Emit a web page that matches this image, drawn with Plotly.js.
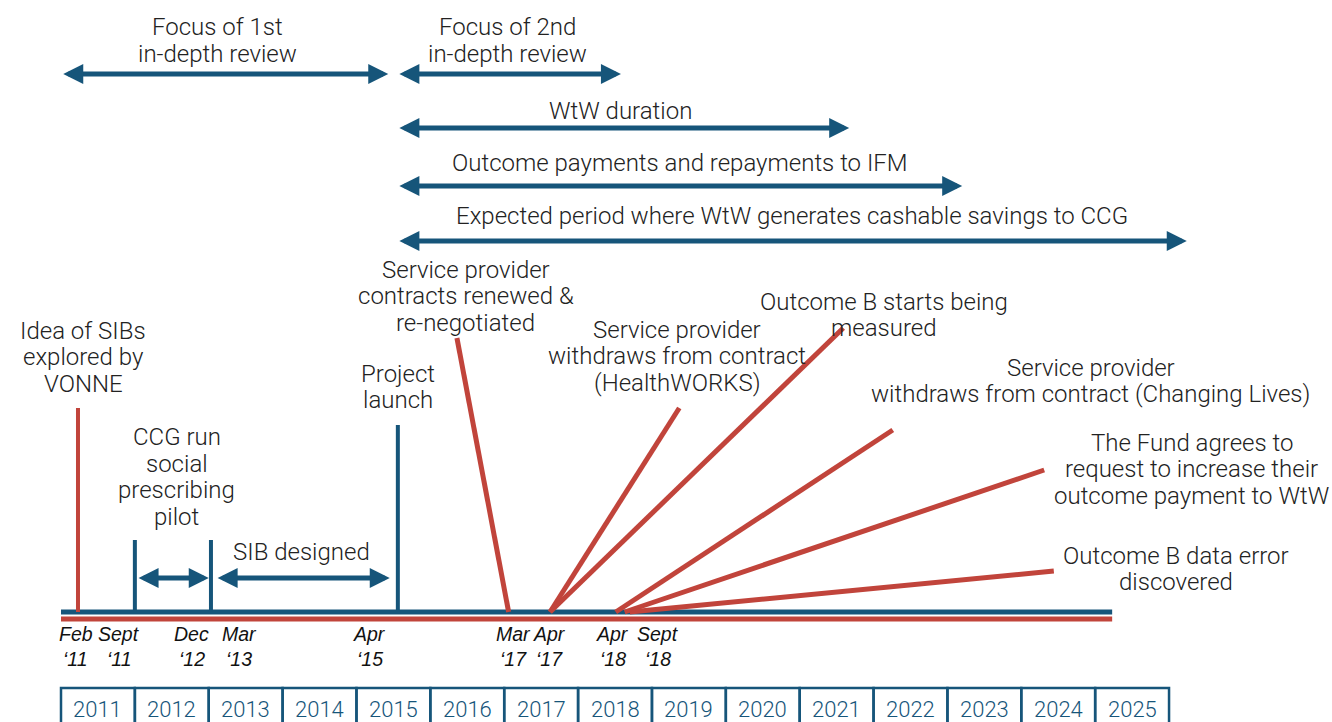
<!DOCTYPE html>
<html>
<head>
<meta charset="utf-8">
<script src="https://cdn.plot.ly/plotly-3.0.1.min.js"></script>
<style>html,body{margin:0;padding:0;background:#fff;}#chart{width:1332px;height:722px;}</style>
</head>
<body>
<div id="chart"></div>
<script>
// ---------- DATA ----------
const years = [2011, 2012, 2013, 2014, 2015, 2016, 2017, 2018, 2019, 2020, 2021, 2022, 2023, 2024, 2025];
const yearLabels = ['2011','2012','2013','2014','2015','2016','2017','2018','2019','2020','2021','2022','2023','2024','2025'];

// Periods shown as double arrows (schematic positions in years)
const periodLabels = ['Focus of 1st<br>in-depth review', 'Focus of 2nd<br>in-depth review', 'WtW duration',
  'Outcome payments and repayments to IFM', 'Expected period where WtW generates cashable savings to CCG'];
const periodStart = [2011.01, 2015.56, 2015.56, 2015.56, 2015.56];
const periodEnd = [2015.43, 2018.58, 2021.67, 2023.20, 2026.24];

// Lower periods
const phaseLabels = ['CCG run<br>social<br>prescribing<br>pilot', 'SIB designed'];
const phaseStart = [2012.03, 2013.10];
const phaseEnd = [2013.00, 2015.45];

// Milestones drawn as vertical lines
const milestoneLabels = ['Idea of SIBs<br>explored by<br>VONNE', '', '', 'Project<br>launch'];
const milestoneDate = [2011.23, 2012.00, 2013.03, 2015.56];

// Events drawn as slanted red lines
const eventLabels = ['Service provider<br>contracts renewed &<br>re-negotiated',
  'Service provider<br>withdraws from contract<br>(HealthWORKS)',
  'Outcome B starts being<br>measured',
  'Service provider<br>withdraws from contract (Changing Lives)',
  'The Fund agrees to<br>request to increase their<br>outcome payment to WtW',
  'Outcome B data error<br>discovered'];
const eventDate = [2017.06, 2017.62, 2017.62, 2018.51, 2018.63, 2018.70];

// Date tick labels under the timeline
const dateTickLabels = ['Feb<br>‘11','Sept<br>‘11','Dec<br>‘12','Mar<br>‘13','Apr<br>‘15','Mar<br>‘17','Apr<br>‘17','Apr<br>‘18','Sept<br>‘18'];
const dateTickPos = [2011.20, 2011.79, 2012.77, 2013.41, 2015.18, 2017.12, 2017.61, 2018.47, 2019.08];

const timelineStart = 2011.0, timelineEnd = 2025.23;

// ---------- LAYOUT / STYLE ----------
const BLUE = '#16557a', RED = '#c1443b', TXT = '#222222';
const FONT = 'Roboto, "Liberation Sans", Arial, sans-serif';
const baseY = 612, redBaseY = 619;
const periodLabelPos = [[2013.12, 40], [2017.05, 40], [2018.57, 111], [2019.38, 163], [2020.90, 216]];
const periodArrowY = [74, 74, 128, 186, 241];
const phaseLabelPos = [[2012.57, 477], [2014.26, 552]];
const phaseArrowY = [578, 578];
const milestoneTopY = [408, 540, 540, 425];
const milestoneColor = [RED, BLUE, BLUE, BLUE];
const milestoneLabelPos = [[2011.30, 357], null, null, [2015.56, 387]];
const eventTip = [[2016.36, 338], [2019.37, 408], [2021.59, 328], [2022.26, 430], [2024.31, 470], [2024.44, 571]];
const eventLabelPos = [[2016.48, 296], [2019.34, 356], [2022.14, 315], [2024.94, 381], [2026.31, 469], [2026.09, 569]];

const traces = [];
traces.push({x:[timelineStart, timelineEnd], y:[baseY, baseY], mode:'lines', line:{color:BLUE, width:5}, hoverinfo:'skip'});
traces.push({x:[timelineStart, timelineEnd], y:[redBaseY, redBaseY], mode:'lines', line:{color:RED, width:5}, hoverinfo:'skip'});
milestoneDate.forEach((d, i) => {
  traces.push({x:[d, d], y:[baseY, milestoneTopY[i]], mode:'lines', line:{color:milestoneColor[i], width:4}, hoverinfo:'skip'});
});
eventDate.forEach((d, i) => {
  traces.push({x:[d, eventTip[i][0]], y:[baseY, eventTip[i][1]], mode:'lines', line:{color:RED, width:5}, hoverinfo:'skip'});
});

const annotations = [];
const mainFont = {family:FONT, size:24, color:TXT, weight:300};
function label(text, x, y, font, spacing) {
  const lines = text.split('<br>');
  const n = lines.length;
  lines.forEach((ln, i) => {
    annotations.push({text:ln, x:x, y:y + (i - (n - 1) / 2) * spacing, xref:'x', yref:'y', showarrow:false,
      xanchor:'center', yanchor:'middle', font:font || mainFont});
  });
}
function dblArrow(x0, x1, y, w) {
  annotations.push({text:'', x:x1, y:y, ax:x0, ay:y, xref:'x', yref:'y', axref:'x', ayref:'y',
    showarrow:true, arrowside:'end+start', arrowhead:2, startarrowhead:2, arrowsize:0.8, startarrowsize:0.8,
    arrowwidth:w, arrowcolor:BLUE, standoff:0, startstandoff:0});
}
periodLabels.forEach((t, i) => {
  label(t, periodLabelPos[i][0], periodLabelPos[i][1], mainFont, 27);
  dblArrow(periodStart[i], periodEnd[i], periodArrowY[i], 5);
});
phaseLabels.forEach((t, i) => {
  label(t, phaseLabelPos[i][0], phaseLabelPos[i][1], mainFont, 26.5);
  dblArrow(phaseStart[i], phaseEnd[i], phaseArrowY[i], 5);
});
milestoneLabels.forEach((t, i) => { if (t) label(t, milestoneLabelPos[i][0], milestoneLabelPos[i][1], mainFont, 26.5); });
eventLabels.forEach((t, i) => label(t, eventLabelPos[i][0], eventLabelPos[i][1], mainFont, 26.5));
const dateFont = {family:'"Liberation Sans Narrow", "Liberation Sans", Arial, sans-serif', size:19.5, color:'#111', style:'italic'};
dateTickLabels.forEach((t, i) => label(t, dateTickPos[i], 646, dateFont, 25));

const shapes = [];
const yearFont = {family:FONT, size:22, color:BLUE, weight:300};
years.forEach((yr, i) => {
  shapes.push({type:'rect', xref:'x', yref:'y', x0:yr, x1:yr+1, y0:688, y1:740, line:{color:BLUE, width:2.5}, fillcolor:'rgba(0,0,0,0)'});
  label(yearLabels[i], yr + 0.5, 709, yearFont, 0);
});

const layout = {
  width:1332, height:722, margin:{l:0, r:0, t:0, b:0},
  paper_bgcolor:'#fff', plot_bgcolor:'#fff', showlegend:false,
  xaxis:{range:[2010.1742, 2028.206], visible:false, fixedrange:true},
  yaxis:{range:[722, 0], visible:false, fixedrange:true},
  annotations:annotations, shapes:shapes
};
Plotly.newPlot('chart', traces, layout, {displayModeBar:false, staticPlot:true});
</script>
</body>
</html>
